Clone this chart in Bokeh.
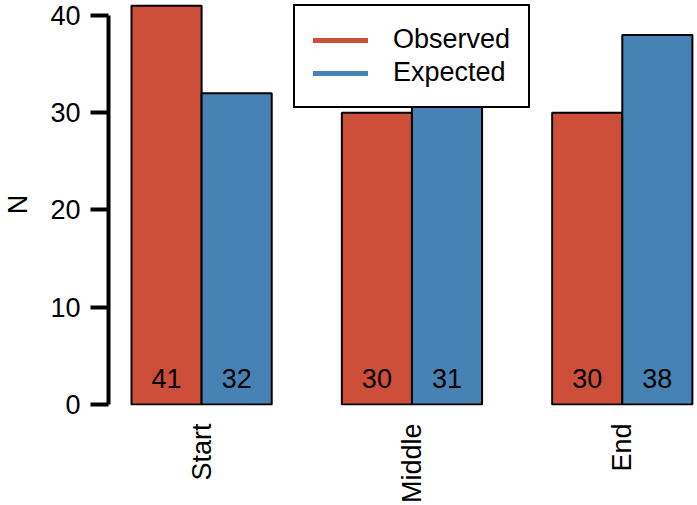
import math
from bokeh.plotting import figure
from bokeh.models import FixedTicker, Range1d, ColumnDataSource
from bokeh.core.properties import value
from bokeh.embed import file_html
from bokeh.resources import INLINE

# ---- data ----
categories = ["Start", "Middle", "End"]
observed = [41, 30, 30]
expected = [32, 31, 38]
series_names = ["Observed", "Expected"]
y_ticks = [0, 10, 20, 30, 40]
y_label = "N"

RED = "#CD4F39"   # tomato3
BLUE = "#4682B4"  # steelblue
FONT = "Liberation Sans"
FS = "27px"

n = len(categories)
obs_x = [3 * i + 0.5 for i in range(n)]
exp_x = [3 * i + 1.5 for i in range(n)]
grp_x = [3 * i + 1.0 for i in range(n)]

FRAME_W = 586
FRAME_H = 402
p = figure(
    frame_width=FRAME_W, frame_height=FRAME_H,
    x_range=Range1d(-0.328, 3 * n - 0.97),
    y_range=Range1d(-0.10, 41.23),
    output_backend="svg", toolbar_location=None,
    min_border_left=108, min_border_top=3, min_border_right=1, min_border_bottom=0,
)
p.outline_line_color = None
p.xgrid.visible = False
p.ygrid.visible = False
p.background_fill_color = "white"
p.border_fill_color = "white"

src_o = ColumnDataSource(dict(x=obs_x, top=observed, lab=[str(v) for v in observed]))
src_e = ColumnDataSource(dict(x=exp_x, top=expected, lab=[str(v) for v in expected]))

p.vbar(x="x", top="top", bottom=0, width=1.0, source=src_o,
       fill_color=RED, line_color="black", line_width=2)
p.vbar(x="x", top="top", bottom=0, width=1.0, source=src_e,
       fill_color=BLUE, line_color="black", line_width=2)

label_y = 2.7
for src in (src_o, src_e):
    p.text(x="x", y=label_y, text="lab", source=src,
           text_align="center", text_baseline="middle",
           text_font=value(FONT), text_font_size=FS, text_color="black")

nan = float("nan")
p.line(x=[nan], y=[nan], line_color=RED, line_width=5, line_cap="round",
       legend_label=series_names[0])
p.line(x=[nan], y=[nan], line_color=BLUE, line_width=5, line_cap="round",
       legend_label=series_names[1])

lg = p.legend[0]
lg.border_line_color = "black"
lg.border_line_alpha = 1.0
lg.border_line_width = 2
lg.background_fill_color = "white"
lg.background_fill_alpha = 1.0
lg.label_text_font = FONT
lg.label_text_font_size = FS
lg.label_text_color = "black"
lg.glyph_width = 55
lg.glyph_height = 28
lg.label_height = 28
lg.label_standoff = 25
lg.padding = 18
lg.spacing = 2
lg.margin = 0
lg.location = (185, 297)

ya = p.yaxis[0]
ya.ticker = FixedTicker(ticks=y_ticks)
ya.bounds = (0, 40)
ya.axis_line_width = 4
ya.axis_line_color = "black"
ya.major_tick_line_width = 4
ya.major_tick_line_color = "black"
ya.major_tick_out = 18
ya.major_tick_in = 0
ya.minor_tick_line_color = None
ya.major_label_text_font = FONT
ya.major_label_text_font_size = FS
ya.major_label_text_color = "black"
ya.major_label_standoff = 10
ya.axis_label = y_label
ya.axis_label_text_font = FONT
ya.axis_label_text_font_size = FS
ya.axis_label_text_font_style = "normal"
ya.axis_label_text_color = "black"
ya.axis_label_standoff = 14

xa = p.xaxis[0]
xa.ticker = FixedTicker(ticks=grp_x)
xa.major_label_overrides = {x: c for x, c in zip(grp_x, categories)}
xa.major_label_orientation = math.pi / 2
xa.axis_line_color = None
xa.major_tick_line_color = None
xa.minor_tick_line_color = None
xa.major_label_text_font = FONT
xa.major_label_text_font_size = FS
xa.major_label_text_color = "black"
xa.major_label_standoff = 12

open("out.html", "w").write(file_html(p, INLINE))
